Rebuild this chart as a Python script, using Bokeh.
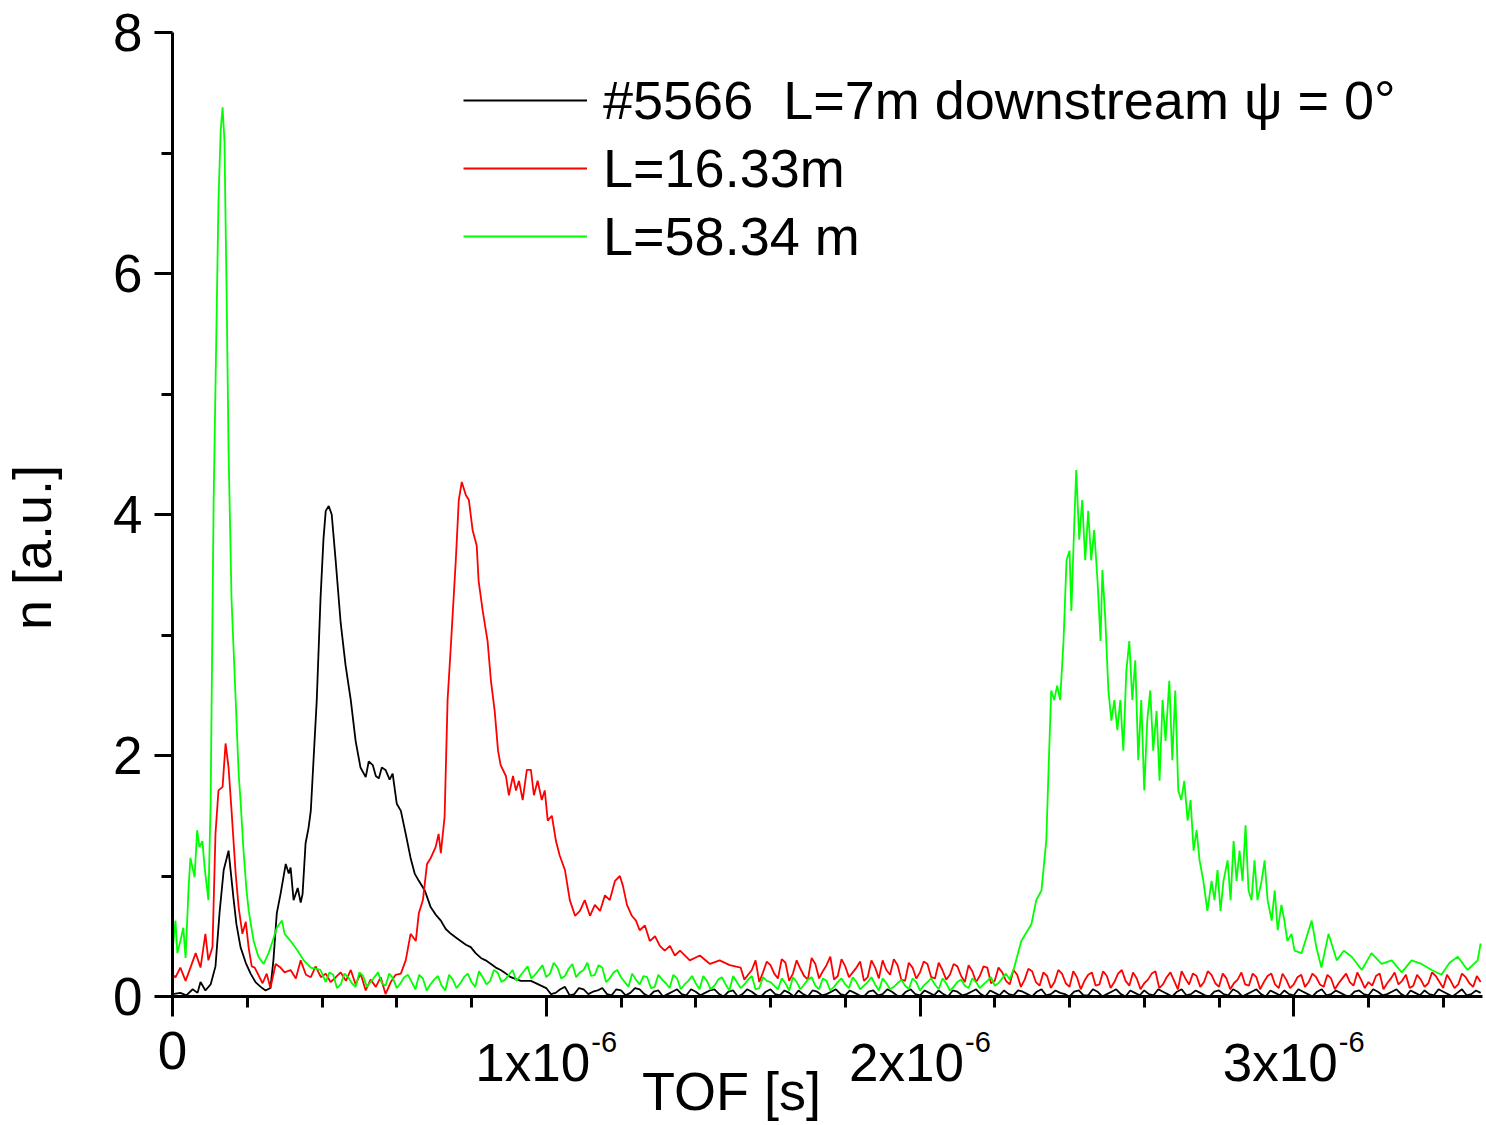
import math
from bokeh.plotting import figure
from bokeh.models import (Range1d, FixedTicker, CustomJSTickFormatter, Label,
                          Legend, LegendItem)
from bokeh.embed import file_html
from bokeh.resources import INLINE

FONT = "Liberation Sans"

# ---------------- data (time in microseconds, density in a.u.) ----------------
black_peak = [
    (0.000, 0.02), (0.021, 0.03), (0.037, 0.01), (0.054, 0.06), (0.067, 0.03),
    (0.075, 0.12), (0.088, 0.05), (0.102, 0.10), (0.115, 0.25), (0.126, 0.70),
    (0.137, 1.05), (0.150, 1.21), (0.163, 0.82), (0.171, 0.60), (0.182, 0.41),
    (0.196, 0.28), (0.209, 0.19), (0.222, 0.12), (0.236, 0.08), (0.249, 0.05),
    (0.262, 0.07), (0.270, 0.30), (0.279, 0.69), (0.289, 0.85), (0.303, 1.10),
    (0.311, 1.02), (0.316, 1.07), (0.324, 0.80), (0.335, 0.90), (0.343, 0.78),
    (0.348, 0.85), (0.356, 1.27), (0.364, 1.40), (0.370, 1.54), (0.378, 2.00),
    (0.386, 2.46), (0.396, 3.30), (0.404, 3.80), (0.410, 4.03), (0.418, 4.07),
    (0.426, 4.00), (0.437, 3.60), (0.450, 3.10), (0.463, 2.75), (0.477, 2.46),
    (0.490, 2.12), (0.503, 1.90), (0.517, 1.82), (0.525, 1.95), (0.536, 1.92),
    (0.544, 1.83), (0.552, 1.81), (0.560, 1.90), (0.570, 1.88), (0.581, 1.80),
    (0.589, 1.85), (0.600, 1.60), (0.611, 1.54), (0.624, 1.35), (0.637, 1.15),
    (0.648, 1.02), (0.659, 0.96), (0.675, 0.88), (0.691, 0.74), (0.704, 0.68),
    (0.718, 0.63), (0.731, 0.56), (0.745, 0.52), (0.758, 0.49), (0.771, 0.46),
    (0.785, 0.43), (0.798, 0.41), (0.811, 0.36), (0.825, 0.32), (0.838, 0.30),
    (0.852, 0.27), (0.865, 0.24), (0.878, 0.22), (0.892, 0.19), (0.905, 0.16),
    (0.932, 0.13), (0.959, 0.13), (0.986, 0.09),
]
black_tail = [
    (1.000, .07), (1.025, .03), (1.050, .08), (1.075, .02), (1.100, .06), (1.125, .04),
    (1.150, .07), (1.175, .01), (1.200, .05), (1.225, .03), (1.250, .06), (1.275, .00),
    (1.300, .05), (1.325, .02), (1.350, .06), (1.375, .01), (1.400, .04), (1.425, .03),
    (1.450, .06), (1.475, .00), (1.500, .05), (1.525, .02), (1.550, .04), (1.575, .00),
    (1.600, .06), (1.625, .01), (1.650, .03), (1.675, .05), (1.700, .00), (1.725, .04),
    (1.750, .02), (1.775, .06), (1.800, .01), (1.825, .03), (1.850, .00), (1.875, .05),
    (1.900, .02), (1.925, .04), (1.950, .00), (1.975, .06), (2.000, .01), (2.025, .03),
    (2.050, .05), (2.075, .00), (2.100, .04), (2.125, .02), (2.150, .06), (2.175, .00),
    (2.200, .03), (2.225, .05), (2.250, .01), (2.275, .04), (2.300, .00), (2.325, .06),
    (2.350, .02), (2.375, .03), (2.400, .00), (2.425, .05), (2.450, .01), (2.475, .04),
    (2.500, .02), (2.525, .06), (2.550, .00), (2.575, .03), (2.600, .05), (2.625, .01),
    (2.650, .04), (2.675, .00), (2.700, .06), (2.725, .02), (2.750, .03), (2.775, .00),
    (2.800, .05), (2.825, .01), (2.850, .04), (2.875, .02), (2.900, .06), (2.925, .00),
    (2.950, .03), (2.975, .05), (3.000, .01), (3.025, .04), (3.050, .00), (3.075, .06),
    (3.100, .02), (3.125, .03), (3.150, .00), (3.175, .05), (3.200, .01), (3.225, .04),
    (3.250, .02), (3.275, .06), (3.300, .00), (3.325, .03), (3.350, .05), (3.375, .01),
    (3.400, .04), (3.425, .00), (3.450, .06), (3.475, .02), (3.500, .03),
]
black_tail_mid = [
    (1.0125, .02), (1.0375, .06), (1.0625, .01), (1.0875, .07), (1.1125, .02),
    (1.1375, .05), (1.1625, .02), (1.1875, .06), (1.2125, .01), (1.2375, .07),
    (1.2625, .02), (1.2875, .04), (1.3125, .00), (1.3375, .04), (1.3625, .02),
    (1.3875, .06), (1.4125, .01), (1.4375, .05), (1.4625, .02), (1.4875, .04),
    (1.5125, .00), (1.5375, .06), (1.5625, .01), (1.5875, .04), (1.6125, .02),
    (1.6375, .05), (1.6625, .00), (1.6875, .02), (1.7125, .05), (1.7375, .01),
    (1.7625, .04), (1.7875, .02), (1.8125, .05), (1.8375, .01), (1.8625, .04),
    (1.8875, .01), (1.9125, .06), (1.9375, .01), (1.9625, .04), (1.9875, .02),
    (2.0125, .05), (2.0375, .01), (2.0625, .02), (2.0875, .05), (2.1125, .01),
    (2.1375, .04), (2.1625, .02), (2.1875, .05), (2.2125, .01), (2.2375, .02),
    (2.2625, .05), (2.2875, .02), (2.3125, .04), (2.3375, .01), (2.3625, .05),
    (2.3875, .02), (2.4125, .04), (2.4375, .01), (2.4625, .06), (2.4875, .00),
    (2.5125, .04), (2.5375, .02), (2.5625, .05), (2.5875, .01), (2.6125, .02),
    (2.6375, .06), (2.6625, .02), (2.6875, .04), (2.7125, .01), (2.7375, .05),
    (2.7625, .01), (2.7875, .04), (2.8125, .02), (2.8375, .06), (2.8625, .00),
    (2.8875, .04), (2.9125, .02), (2.9375, .05), (2.9625, .01), (2.9875, .02),
    (3.0125, .06), (3.0375, .02), (3.0625, .04), (3.0875, .01), (3.1125, .05),
    (3.1375, .01), (3.1625, .04), (3.1875, .02), (3.2125, .06), (3.2375, .01),
    (3.2625, .04), (3.2875, .02), (3.3125, .05), (3.3375, .01), (3.3625, .02),
    (3.3875, .06), (3.4125, .02), (3.4375, .03), (3.4625, .01), (3.4875, .05),
]

red_peak = [
    (0.000, 0.18), (0.008, 0.16), (0.021, 0.24), (0.035, 0.13), (0.048, 0.24),
    (0.062, 0.36), (0.075, 0.24), (0.088, 0.52), (0.096, 0.30), (0.107, 0.41),
    (0.115, 1.35), (0.123, 1.71), (0.134, 1.74), (0.142, 2.10), (0.150, 1.90),
    (0.158, 1.54), (0.169, 1.02), (0.177, 0.74), (0.187, 0.52), (0.196, 0.62),
    (0.204, 0.40), (0.212, 0.25), (0.220, 0.24), (0.241, 0.11), (0.252, 0.19),
    (0.262, 0.07), (0.276, 0.27), (0.289, 0.24), (0.300, 0.20), (0.316, 0.22),
    (0.330, 0.15), (0.343, 0.30), (0.357, 0.18), (0.370, 0.16), (0.383, 0.25),
    (0.397, 0.16), (0.410, 0.19), (0.423, 0.12), (0.437, 0.16), (0.450, 0.20),
    (0.464, 0.13), (0.477, 0.22), (0.490, 0.10), (0.503, 0.19), (0.517, 0.05),
    (0.530, 0.14), (0.544, 0.08), (0.557, 0.16), (0.570, 0.02), (0.584, 0.12),
    (0.597, 0.18), (0.611, 0.19), (0.624, 0.30), (0.637, 0.52), (0.651, 0.46),
    (0.659, 0.69), (0.670, 0.80), (0.681, 1.10), (0.691, 1.15), (0.704, 1.24),
    (0.712, 1.35), (0.718, 1.19), (0.728, 1.49), (0.736, 2.46), (0.744, 2.87),
    (0.758, 3.62), (0.766, 4.12), (0.774, 4.27), (0.785, 4.16), (0.793, 4.12),
    (0.803, 3.87), (0.814, 3.74), (0.819, 3.45), (0.830, 3.20), (0.843, 2.95),
    (0.852, 2.62), (0.862, 2.37), (0.871, 2.04), (0.878, 1.92), (0.892, 1.83),
    (0.900, 1.67), (0.911, 1.83), (0.919, 1.71), (0.927, 1.79), (0.937, 1.63),
    (0.948, 1.88), (0.959, 1.88), (0.967, 1.67), (0.977, 1.79), (0.988, 1.63),
    (0.996, 1.71), (1.004, 1.46), (1.015, 1.50), (1.026, 1.29), (1.036, 1.17),
    (1.050, 1.05), (1.063, 0.80), (1.077, 0.67), (1.090, 0.71), (1.103, 0.80),
    (1.117, 0.67), (1.130, 0.76), (1.144, 0.71), (1.157, 0.84), (1.170, 0.80),
    (1.184, 0.96), (1.197, 1.00), (1.205, 0.92), (1.216, 0.76), (1.229, 0.67),
    (1.240, 0.63), (1.250, 0.55), (1.264, 0.59), (1.277, 0.46), (1.291, 0.50),
    (1.304, 0.42), (1.317, 0.38), (1.331, 0.42), (1.344, 0.34), (1.358, 0.38),
    (1.384, 0.30), (1.411, 0.34), (1.438, 0.27), (1.464, 0.30), (1.491, 0.26),
]
red_tail = [
    (1.52, .24), (1.54, .18), (1.56, .30), (1.58, .20), (1.60, .26), (1.62, .15),
    (1.64, .28), (1.66, .19), (1.68, .23), (1.70, .14), (1.72, .27), (1.74, .21),
    (1.76, .33), (1.78, .17), (1.80, .25), (1.82, .20), (1.84, .29), (1.86, .16),
    (1.88, .24), (1.90, .30), (1.92, .18), (1.94, .26), (1.96, .13), (1.98, .24),
    (2.00, .20), (2.02, .27), (2.04, .15), (2.06, .22), (2.08, .18), (2.10, .25),
    (2.12, .12), (2.14, .21), (2.16, .17), (2.18, .24), (2.20, .13), (2.22, .20),
    (2.24, .10), (2.26, .18), (2.28, .14), (2.30, .21), (2.32, .09), (2.34, .17),
    (2.36, .12), (2.38, .19), (2.40, .08), (2.42, .16), (2.44, .13), (2.46, .20),
    (2.48, .10), (2.50, .17), (2.52, .12), (2.54, .22), (2.56, .09), (2.58, .15),
    (2.60, .11), (2.62, .19), (2.64, .07), (2.66, .16), (2.68, .13), (2.70, .21),
    (2.72, .10), (2.74, .17), (2.76, .12), (2.78, .18), (2.80, .08), (2.82, .15),
    (2.84, .11), (2.86, .20), (2.88, .09), (2.90, .16), (2.92, .12), (2.94, .19),
    (2.96, .07), (2.98, .14), (3.00, .10), (3.02, .18), (3.04, .12), (3.06, .16),
    (3.08, .08), (3.10, .15), (3.12, .11), (3.14, .19), (3.16, .09), (3.18, .14),
    (3.20, .12), (3.22, .17), (3.24, .06), (3.26, .15), (3.28, .10), (3.30, .18),
    (3.32, .09), (3.34, .14), (3.36, .11), (3.38, .17), (3.40, .07), (3.42, .13),
    (3.44, .10), (3.46, .16), (3.48, .08), (3.50, .12),
]
red_tail_mid = [
    (1.53, .14), (1.55, .22), (1.57, .12), (1.59, .29), (1.61, .19), (1.63, .31),
    (1.65, .13), (1.67, .30), (1.69, .17), (1.71, .32), (1.73, .15), (1.75, .26),
    (1.77, .14), (1.79, .31), (1.81, .16), (1.83, .24), (1.85, .13), (1.87, .30),
    (1.89, .15), (1.91, .22), (1.93, .31), (1.95, .14), (1.97, .28), (1.99, .15),
    (2.01, .29), (2.03, .16), (2.05, .28), (2.07, .14), (2.09, .27), (2.11, .17),
    (2.13, .26), (2.15, .12), (2.17, .25), (2.19, .11), (2.21, .24), (2.23, .13),
    (2.25, .22), (2.27, .08), (2.29, .23), (2.31, .12), (2.33, .20), (2.35, .07),
    (2.37, .22), (2.39, .11), (2.41, .21), (2.43, .06), (2.45, .18), (2.47, .09),
    (2.49, .21), (2.51, .07), (2.53, .19), (2.55, .13), (2.57, .20), (2.59, .06),
    (2.61, .14), (2.63, .21), (2.65, .10), (2.67, .20), (2.69, .06), (2.71, .15),
    (2.73, .19), (2.75, .08), (2.77, .21), (2.79, .11), (2.81, .19), (2.83, .06),
    (2.85, .14), (2.87, .10), (2.89, .19), (2.91, .06), (2.93, .17), (2.95, .10),
    (2.97, .19), (2.99, .07), (3.01, .16), (3.03, .08), (3.05, .19), (3.07, .10),
    (3.09, .18), (3.11, .06), (3.13, .15), (3.15, .12), (3.17, .20), (3.19, .07),
    (3.21, .09), (3.23, .19), (3.25, .11), (3.27, .20), (3.29, .13), (3.31, .07),
    (3.33, .18), (3.35, .08), (3.37, .20), (3.39, .12), (3.41, .18), (3.43, .07),
    (3.45, .19), (3.47, .11), (3.49, .17),
]

green_first = [
    (0.000, 0.38), (0.008, 0.63), (0.013, 0.36), (0.021, 0.46), (0.029, 0.57),
    (0.035, 0.32), (0.043, 0.90), (0.048, 1.15), (0.059, 0.99), (0.066, 1.38),
    (0.072, 1.24), (0.080, 1.29), (0.086, 1.07), (0.096, 0.80), (0.102, 1.60),
    (0.110, 4.10), (0.123, 6.60), (0.129, 7.19), (0.134, 7.38), (0.139, 7.10),
    (0.145, 5.78), (0.150, 4.53), (0.158, 3.29), (0.169, 2.46), (0.177, 1.85),
    (0.182, 1.63), (0.190, 1.21), (0.198, 0.88), (0.204, 0.71), (0.217, 0.46),
    (0.230, 0.33), (0.244, 0.27), (0.257, 0.36), (0.268, 0.46), (0.279, 0.57),
    (0.293, 0.63), (0.300, 0.52), (0.316, 0.46), (0.335, 0.38), (0.351, 0.30),
    (0.370, 0.24), (0.396, 0.22),
]
green_base = [
    (0.41, .12), (0.43, .18), (0.45, .10), (0.47, .16), (0.49, .08), (0.51, .17),
    (0.53, .12), (0.55, .20), (0.57, .09), (0.59, .15), (0.61, .11), (0.63, .18),
    (0.65, .06), (0.67, .15), (0.69, .10), (0.71, .17), (0.73, .05), (0.75, .14),
    (0.77, .11), (0.79, .19), (0.81, .08), (0.83, .16), (0.85, .13), (0.87, .20),
    (0.89, .14), (0.91, .22), (0.93, .17), (0.95, .25), (0.97, .18), (0.99, .26),
    (1.01, .19), (1.03, .24), (1.05, .17), (1.07, .27), (1.09, .20), (1.11, .28),
    (1.13, .18), (1.15, .24), (1.17, .15), (1.19, .22), (1.21, .12), (1.23, .19),
    (1.25, .10), (1.27, .16), (1.29, .08), (1.31, .14), (1.33, .07), (1.35, .15),
    (1.37, .10), (1.39, .17), (1.41, .06), (1.43, .13), (1.45, .09), (1.47, .16),
    (1.49, .05), (1.51, .12), (1.53, .10), (1.55, .17), (1.57, .07), (1.59, .13),
    (1.61, .09), (1.63, .15), (1.65, .05), (1.67, .12), (1.69, .10), (1.71, .16),
    (1.73, .06), (1.75, .13), (1.77, .08), (1.79, .15), (1.81, .07), (1.83, .12),
    (1.85, .09), (1.87, .16), (1.89, .05), (1.91, .11), (1.93, .08), (1.95, .14),
    (1.97, .06), (1.99, .12), (2.01, .09), (2.03, .15), (2.05, .06), (2.07, .11),
    (2.09, .08), (2.11, .14), (2.13, .07), (2.15, .12), (2.17, .10), (2.19, .16),
    (2.21, .11), (2.23, .19),
]
green_base_mid = [
    (0.42, .20), (0.44, .07), (0.46, .19), (0.48, .11), (0.50, .20), (0.52, .08),
    (0.54, .16), (0.56, .11), (0.58, .19), (0.60, .07), (0.62, .16), (0.64, .12),
    (0.66, .18), (0.68, .05), (0.70, .14), (0.72, .09), (0.74, .18), (0.76, .07),
    (0.78, .16), (0.80, .12), (0.82, .21), (0.84, .10), (0.86, .22), (0.88, .12),
    (0.90, .18), (0.92, .13), (0.94, .21), (0.96, .15), (0.98, .22), (1.00, .16),
    (1.02, .28), (1.04, .15), (1.06, .23), (1.08, .16), (1.10, .22), (1.12, .17),
    (1.14, .26), (1.16, .12), (1.18, .20), (1.20, .16), (1.22, .08), (1.24, .14),
    (1.26, .17), (1.28, .07), (1.30, .18), (1.32, .11), (1.34, .18), (1.36, .06),
    (1.38, .13), (1.40, .11), (1.42, .17), (1.44, .06), (1.46, .14), (1.48, .10),
    (1.50, .17), (1.52, .07), (1.54, .14), (1.56, .06), (1.58, .16), (1.60, .12),
    (1.62, .06), (1.64, .11), (1.66, .16), (1.68, .06), (1.70, .14), (1.72, .09),
    (1.74, .15), (1.76, .05), (1.78, .12), (1.80, .10), (1.82, .16), (1.84, .06),
    (1.86, .12), (1.88, .10), (1.90, .15), (1.92, .06), (1.94, .11), (1.96, .09),
    (1.98, .15), (2.00, .05), (2.02, .12), (2.04, .10), (2.06, .15), (2.08, .05),
    (2.10, .12), (2.12, .09), (2.14, .15), (2.16, .07), (2.18, .13), (2.20, .09),
    (2.22, .15), (2.24, .14),
]
green_second = [
    (2.252, 0.24), (2.271, 0.46), (2.298, 0.60), (2.311, 0.80), (2.325, 0.88),
    (2.338, 1.30), (2.343, 1.79), (2.351, 2.54), (2.359, 2.46), (2.367, 2.58),
    (2.375, 2.46), (2.384, 2.95), (2.392, 3.62), (2.400, 3.70), (2.405, 3.20),
    (2.413, 3.95), (2.418, 4.37), (2.426, 3.79), (2.434, 4.12), (2.442, 3.62),
    (2.450, 4.03), (2.458, 3.62), (2.466, 3.87), (2.475, 3.45), (2.483, 2.95),
    (2.488, 3.54), (2.496, 3.12), (2.504, 2.54), (2.512, 2.29), (2.520, 2.46),
    (2.528, 2.21), (2.536, 2.46), (2.544, 2.04), (2.552, 2.70), (2.560, 2.95),
    (2.568, 2.46), (2.576, 2.79), (2.584, 1.96), (2.592, 2.46), (2.600, 1.71),
    (2.608, 2.29), (2.616, 2.54), (2.624, 2.04), (2.633, 2.37), (2.641, 1.79),
    (2.649, 2.46), (2.657, 2.12), (2.667, 2.62), (2.675, 1.96), (2.683, 2.54),
    (2.691, 1.71), (2.699, 1.63), (2.707, 1.79), (2.716, 1.46), (2.724, 1.63),
    (2.732, 1.21), (2.740, 1.38), (2.748, 1.13), (2.758, 0.96), (2.769, 0.71),
    (2.780, 0.96), (2.788, 0.80), (2.796, 1.05), (2.804, 0.71), (2.812, 0.96),
    (2.823, 1.13), (2.831, 0.80), (2.839, 1.29), (2.847, 0.96), (2.855, 1.21),
    (2.863, 0.96), (2.871, 1.42), (2.879, 0.88), (2.887, 0.80), (2.895, 1.13),
    (2.903, 0.80), (2.914, 0.96), (2.922, 1.13), (2.930, 0.80), (2.941, 0.63),
    (2.949, 0.88), (2.957, 0.55), (2.967, 0.76), (2.975, 0.63), (2.983, 0.46),
    (2.994, 0.52), (3.002, 0.38), (3.021, 0.36), (3.048, 0.63), (3.061, 0.40),
    (3.074, 0.24), (3.093, 0.52), (3.115, 0.30), (3.134, 0.38), (3.155, 0.33),
    (3.182, 0.22), (3.208, 0.36), (3.235, 0.27), (3.262, 0.30), (3.289, 0.20),
    (3.315, 0.30), (3.342, 0.27), (3.369, 0.22), (3.395, 0.18), (3.417, 0.28),
    (3.439, 0.33), (3.465, 0.22), (3.492, 0.30), (3.500, 0.44),
]

series_labels = ["#5566  L=7m downstream \u03c8 = 0\u00b0", "L=16.33m", "L=58.34 m"]
series_colors = ["#000000", "#ff0000", "#00ff00"]

x_major_us = [0, 1, 2, 3]
x_minor_us = [0.2, 0.4, 0.6, 0.8, 1.2, 1.4, 1.6, 1.8, 2.2, 2.4, 2.6, 2.8, 3.2, 3.4]
x_tick_main = ["0", "1x10", "2x10", "3x10"]
x_tick_exp = ["", "-6", "-6", "-6"]
y_major = [0, 2, 4, 6, 8]
y_minor = [1, 3, 5, 7]

black_pts = sorted(black_peak + black_tail + black_tail_mid)
red_pts = sorted(red_peak + red_tail + red_tail_mid)
green_pts = sorted(green_first + green_base + green_base_mid + green_second)


def xs(pts):
    return [t * 1e-6 for t, _ in pts]


def ys(pts):
    return [v for _, v in pts]


# ---------------- figure ----------------
# Frame fills the whole canvas; axes are pinned at x=0 / y=0 so that the
# tick labels and titles (drawn as annotations) are not clipped.
W, H = 1486, 1125
X0_PX, X1_PX = 172, 1482     # pixel columns of t = 0 and t = 3.505 us
Y0_PX, Y8_PX = 996, 32       # pixel rows of n = 0 and n = 8
X_END = 3.505e-6
sx = (X1_PX - X0_PX) / X_END
sy = (Y0_PX - Y8_PX) / 8.0

p = figure(width=W, height=H, output_backend="svg", toolbar_location=None,
           x_range=Range1d(-X0_PX / sx, (W - X0_PX) / sx),
           y_range=Range1d(-(H - Y0_PX) / sy, Y0_PX / sy),
           min_border_left=0, min_border_right=0, min_border_top=0,
           min_border_bottom=0)
p.outline_line_color = None
p.xgrid.visible = False
p.ygrid.visible = False
p.background_fill_color = "white"
p.border_fill_color = "white"

renderers = []
for pts, col in zip([black_pts, red_pts, green_pts], series_colors):
    r = p.line(xs(pts), ys(pts), line_color=col, line_width=1.8)
    renderers.append(r)

# axes
for ax in (p.xaxis[0], p.yaxis[0]):
    ax.fixed_location = 0
    ax.axis_line_width = 3
    ax.major_tick_line_width = 3
    ax.minor_tick_line_width = 3
    ax.major_tick_in = 0
    ax.minor_tick_in = 0
    ax.minor_tick_out = 11
    ax.axis_line_color = "black"
    ax.major_tick_line_color = "black"
    ax.minor_tick_line_color = "black"

p.xaxis.bounds = (0, X_END)
p.xaxis.ticker = FixedTicker(ticks=[v * 1e-6 for v in x_major_us],
                             minor_ticks=[v * 1e-6 for v in x_minor_us])
p.xaxis.major_tick_out = 20
p.xaxis.formatter = CustomJSTickFormatter(code="return ''")

p.yaxis.bounds = (0, 8)
p.yaxis.ticker = FixedTicker(ticks=y_major, minor_ticks=y_minor)
p.yaxis.major_tick_out = 18
p.yaxis.major_label_standoff = 12
p.yaxis.major_label_text_font = FONT
p.yaxis.major_label_text_font_size = "53px"
p.yaxis.major_label_text_color = "black"

# x tick labels with superscript exponents (screen y measured from canvas bottom)
for v, main, ex in zip(x_major_us, x_tick_main, x_tick_exp):
    if ex == "":
        p.add_layout(Label(x=v * 1e-6, y=H - 1050, x_units="data", y_units="screen",
                           text=main, text_align="center", text_baseline="alphabetic",
                           text_font=FONT, text_font_size="53px", text_color="black"))
    else:
        p.add_layout(Label(x=v * 1e-6, y=H - 1062, x_units="data", y_units="screen",
                           x_offset=44, text=main, text_align="right",
                           text_baseline="alphabetic", text_font=FONT,
                           text_font_size="53px", text_color="black"))
        p.add_layout(Label(x=v * 1e-6, y=H - 1041, x_units="data", y_units="screen",
                           x_offset=45, text=ex, text_align="left",
                           text_baseline="alphabetic", text_font=FONT,
                           text_font_size="29px", text_color="black"))

# axis titles
p.add_layout(Label(x=731, y=H - 1090, x_units="screen", y_units="screen", text="TOF [s]",
                   text_align="center", text_baseline="alphabetic", text_font=FONT,
                   text_font_size="54px", text_color="black"))
p.add_layout(Label(x=31, y=H - 547, x_units="screen", y_units="screen", text="n [a.u.]",
                   angle=math.pi / 2, text_align="center", text_baseline="alphabetic",
                   text_font=FONT, text_font_size="54px", text_color="black"))

# legend
legend = Legend(items=[LegendItem(label=lab, renderers=[r])
                       for lab, r in zip(series_labels, renderers)],
                location=(463, H - 270), glyph_width=124, glyph_height=68,
                label_height=68, label_standoff=16, spacing=0, padding=0, margin=0,
                border_line_color=None, background_fill_alpha=0,
                label_text_font=FONT, label_text_font_size="54px",
                label_text_color="black")
p.add_layout(legend)

open("out.html", "w").write(file_html(p, INLINE))
